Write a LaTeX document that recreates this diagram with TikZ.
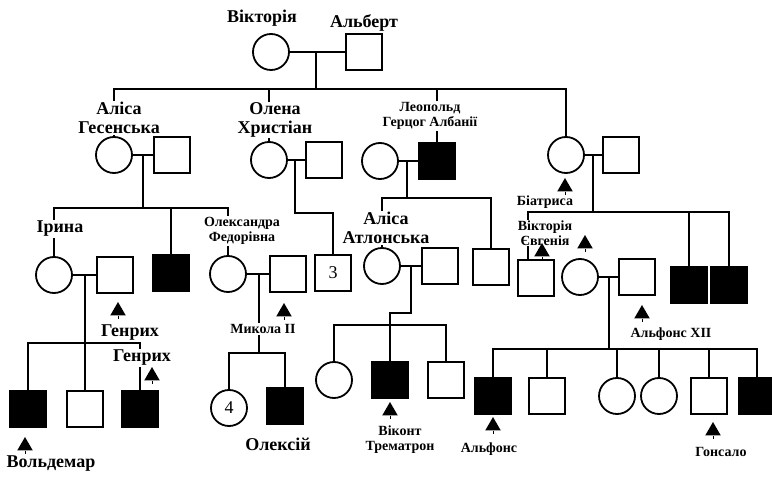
\documentclass[tikz,border=0pt]{standalone}
\usepackage{fontspec}
\setmainfont{Liberation Serif}
\usetikzlibrary{shapes.geometric, calc}

\begin{document}
\begin{tikzpicture}[x=1pt, y=-1pt]

    % --- Styles ---
    \def\SymSize{36pt}
    \tikzset{
        person/.style={draw, line width=1.8pt, minimum size=\SymSize, inner sep=0pt},
        female/.style={person, circle},
        male/.style={person, rectangle},
        affected/.style={fill=black},
        link/.style={line width=1.5pt},
        bigname/.style={font=\bfseries\fontsize{18}{19}\selectfont, fill=white, inner sep=1pt, align=center},
        smallname/.style={font=\bfseries\fontsize{14}{15}\selectfont, fill=white, inner sep=1pt, align=center},
        pointer/.style={regular polygon, regular polygon sides=3, fill=black, minimum size=18pt, inner sep=0pt,
            append after command={(\tikzlastnode.south) edge[line width=1pt] ++(0,3)}}
    }

    \useasboundingbox (0,0) rectangle (772,478);

    % --- Generation I ---
    \node[female] (vic) at (271,52) {};
    \node[male]   (alb) at (364,52) {};

    % --- Generation II ---
    \node[female] (aliceH) at (114,155) {};
    \node[male]   (hH)     at (172,155) {};
    \node[female] (helena) at (269,160) {};
    \node[male]   (hChr)   at (324,160) {};
    \node[female] (leoW)   at (380,161) {};
    \node[male, affected] (leo) at (437,161) {};
    \node[female] (beat)   at (566,155) {};
    \node[male]   (hBeat)  at (621,155) {};

    % --- Generation III ---
    \node[female] (irina)  at (54,275) {};
    \node[male]   (heinr)  at (115,275) {};
    \node[male, affected] (sonH) at (171,273) {};
    \node[female] (alexa)  at (228,274) {};
    \node[male]   (nich)   at (288,274) {};
    \node[male, font=\fontsize{18}{19}\selectfont] (ch3) at (333,273) {3};
    \node[female] (aliceA) at (382,266) {};
    \node[male]   (hAA)    at (440,266) {};
    \node[male]   (leoSon) at (491,267) {};
    \node[male]   (vicE)   at (536,278) {};
    \node[female] (vicC)   at (580,277) {};
    \node[male]   (alf12)  at (637,277) {};
    \node[male, affected] (beS1) at (689,285) {};
    \node[male, affected] (beS2) at (729,285) {};

    % --- Generation IV ---
    \node[male, affected] (irK1) at (28,409) {};
    \node[male]           (irK2) at (85,409) {};
    \node[male, affected] (irK3) at (140,409) {};
    \node[female, font=\fontsize{18}{19}\selectfont] (alK1) at (229,408) {4};
    \node[male, affected] (alK2) at (285,406) {};
    \node[female]         (aaK1) at (334,380) {};
    \node[male, affected] (aaK2) at (390,380) {};
    \node[male]           (aaK3) at (446,380) {};
    \node[male, affected] (vcK1) at (493,396) {};
    \node[male]           (vcK2) at (547,396) {};
    \node[female]         (vcK3) at (617,396) {};
    \node[female]         (vcK4) at (659,396) {};
    \node[male]           (vcK5) at (709,396) {};
    \node[male, affected] (vcK6) at (757,396) {};

    % --- Junctions ---
    \coordinate (mVA) at (316,52);   \coordinate (sVA) at (316,89);
    \coordinate (mAH) at (143,155);  \coordinate (sAH) at (143,208);
    \coordinate (mHC) at (295,160);  \coordinate (sHC) at (295,213);
    \coordinate (mLW) at (407,161);  \coordinate (sLW) at (407,198);
    \coordinate (mBH) at (593,155);  \coordinate (sBH) at (593,212);
    \coordinate (mIH) at (85,275);   \coordinate (sIH) at (85,343);
    \coordinate (mAN) at (259,274);  \coordinate (sAN) at (259,353);
    \coordinate (mAA) at (411,266);  \coordinate (jAA) at (411,313);
    \coordinate (sAA) at (390,325);
    \coordinate (mVC) at (609,277);  \coordinate (sVC) at (609,349);

    % --- Lines of descent ---
    \draw[link] (vic) -- (alb);
    \draw[link] (mVA) -- (sVA);
    \draw[link] (aliceH.north) |- (sVA) -| (beat.north);
    \draw[link] (helena.north) -- (helena.north |- sVA);
    \draw[link] (leo.north) -- (leo.north |- sVA);

    \draw[link] (aliceH) -- (hH);
    \draw[link] (mAH) -- (sAH);
    \draw[link] (irina.north) |- (sAH) -| (alexa.north);
    \draw[link] (sonH.north) -- (sonH.north |- sAH);

    \draw[link] (helena) -- (hChr);
    \draw[link] (mHC) -- (sHC) -| (ch3.north);

    \draw[link] (leoW) -- (leo);
    \draw[link] (mLW) -- (sLW);
    \draw[link] (aliceA.north) |- (sLW) -| (leoSon.north);

    \draw[link] (beat) -- (hBeat);
    \draw[link] (mBH) -- (sBH);
    \draw[link] ([xshift=-8pt]vicE.north) |- (sBH) -| (beS2.north);
    \draw[link] (beS1.north) -- (beS1.north |- sBH);

    \draw[link] (irina) -- (heinr);
    \draw[link] (mIH) -- (irK2.north);
    \draw[link] (irK1.north) |- (sIH) -| (irK3.north);

    \draw[link] (alexa) -- (nich);
    \draw[link] (mAN) -- (sAN);
    \draw[link] (alK1.north) |- (sAN) -| (alK2.north);

    \draw[link] (aliceA) -- (hAA);
    \draw[link] (mAA) -- (jAA) -| (aaK2.north);
    \draw[link] (aaK1.north) |- (sAA) -| (aaK3.north);

    \draw[link] (vicC) -- (alf12);
    \draw[link] (mVC) -- (sVC);
    \draw[link] (vcK1.north) |- (sVC) -| (vcK6.north);
    \foreach \k in {vcK2, vcK3, vcK4, vcK5}
        \draw[link] (\k.north) -- (\k.north |- sVC);

    % --- Names ---
    \node[bigname] (lVic) at (262,18) {Вікторія};
    \node[bigname] (lAlb) at (364,23) {Альберт};
    \node[bigname] (lAliceH) at (119,118) {Аліса\\Гесенська};
    \node[bigname] (lHelena) at (275,120) {Олена\\Христіан};
    \node[smallname] (lLeo) at (430,116) {Леопольд\\Герцог Албанії};
    \node[smallname] (lBeat) at (545,202) {Біатриса};
    \node[bigname] (lIrina) at (60,229) {Ірина};
    \node[smallname] (lAlexa) at (242,231) {Олександра\\Федорівна};
    \node[bigname] (lAliceA) at (386,228) {Аліса\\Атлонська};
    \node[smallname] (lVicE) at (545,233) {Вікторія\\Євгенія};
    \node[bigname] (lHeinr) at (130,333) {Генрих};
    \node[bigname] (lHeinr2) at (142,358) {Генрих};
    \node[smallname] (lNich) at (263,329) {Микола II};
    \node[smallname] (lAlf12) at (671,334) {Альфонс XII};
    \node[bigname] (lWold) at (51,464) {Вольдемар};
    \node[bigname] (lAlex) at (278,444) {Олексій};
    \node[smallname] (lVisc) at (400,440) {Віконт\\Трематрон};
    \node[smallname] (lAlf) at (489,449) {Альфонс};
    \node[smallname] (lGons) at (721,452) {Гонсало};

    % --- Pointers ---
    \node[pointer] (pBeat)   at (565,187) {};
    \node[pointer] (pHeinr)  at (118,311) {};
    \node[pointer] (pHeinr2) at (152,376) {};
    \node[pointer] (pNich)   at (284,312) {};
    \node[pointer] (pWold)   at (25,446) {};
    \node[pointer] (pVicE)   at (542,252) {};
    \node[pointer] (pVicC)   at (585,244) {};
    \node[pointer] (pAlf12)  at (642,314) {};
    \node[pointer] (pVisc)   at (390,411) {};
    \node[pointer] (pAlf)    at (493,426) {};
    \node[pointer] (pGons)   at (713,431) {};

\end{tikzpicture}
\end{document}
